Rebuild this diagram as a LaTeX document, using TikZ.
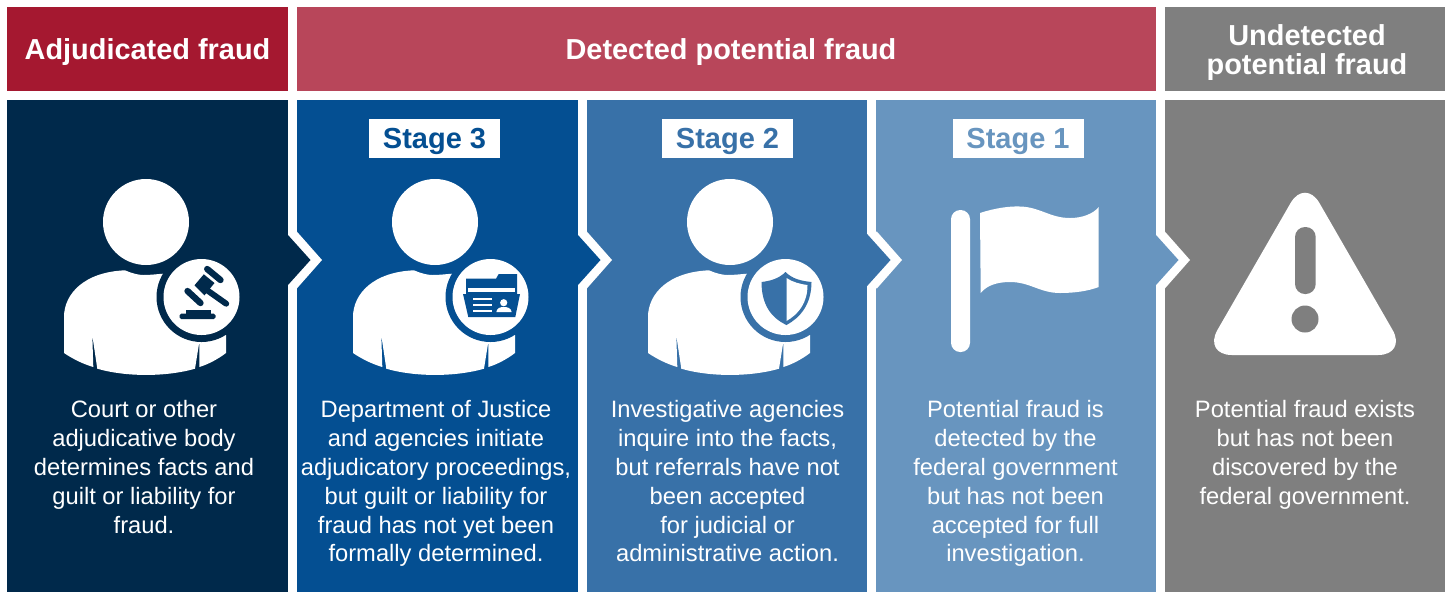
\documentclass[tikz,border=0pt]{standalone}
\usepackage{fontspec}
\setmainfont{Liberation Sans}
\definecolor{fnavy}  {RGB}{0,41,75}
\definecolor{fblue}  {RGB}{4,79,146}
\definecolor{fmid}   {RGB}{56,113,168}
\definecolor{flight} {RGB}{104,149,191}
\definecolor{fgray}  {RGB}{127,127,127}
\definecolor{fred}   {RGB}{165,24,48}
\definecolor{fpink}  {RGB}{184,70,90}
\tikzset{
    hdrbox/.style={minimum height=1.68cm, inner sep=0pt, align=center, text=white,
             text height=0.55cm, text depth=0.13cm,
             font=\fontsize{16.45}{16.4}\selectfont\bfseries},
    panel/.style={minimum height=9.84cm, minimum width=5.62cm, inner sep=0pt},
    stagebox/.style={fill=white, minimum width=2.62cm, minimum height=0.78cm, inner sep=0pt,
             text height=0.5cm, text depth=0.1cm,
             font=\fontsize{16.5}{19}\selectfont\bfseries},
    bodytext/.style={anchor=north, align=center, text=white, inner sep=0pt,
             font=\fontsize{13.5}{16.44}\selectfont},
    pics/person/.style={code={
      \fill[white] (0,0) circle (43);
      \fill[white] (-82,131) -- (-82,95) .. controls (-82,72) and (-62,50) .. (-21,48.3)
        .. controls (-15,51) and (-8,53) .. (-2.7,53) .. controls (5,53) and (12,52) .. (17,51.7)
        -- (80,113) -- (80,131) .. controls (72,137) and (63,142) .. (53.3,145) -- (53.3,120)
        -- (49,146.7) .. controls (20,155) and (-20,155) .. (-48.7,146.7) -- (-53.7,113.3)
        -- (-52.7,145) .. controls (-63,142) and (-73,137) .. (-82,131) -- cycle;
      \fill[#1] (55.5,75) circle (45);
      \fill[white] (55.5,75) circle (38);
    }},
    pics/gavel/.style={code={
      \draw[#1, line width=3.6pt, line cap=round] (5.7,-28) -- (19,-17);
      \draw[#1, line width=3.6pt, line cap=round] (-14,-6) -- (-1,6);
      \fill[#1] (2.3,-22.7) -- (13,-14) -- (3,-1.7) -- (-7,-11.7) -- cycle;
      \draw[#1, line width=3.4pt, line cap=round] (5.7,-6.7) -- (24.7,6.7);
      \fill[#1, rounded corners=1pt] (-22,16.7) rectangle (14,22);
      \fill[#1] (-16,12.7) rectangle (9,17);
    }},
    pics/folder/.style={code={
      \fill[#1] (-25,-18.3) -- (5,-18.3) -- (7.7,-23) -- (26,-23) -- (26,-3) -- (-25,-3) -- cycle;
      \fill[white] (-23.3,-9) rectangle (24.3,-5);
      \fill[#1] (-28,-3) -- (29,-3) -- (24.3,20) -- (-22.7,20) -- cycle;
      \foreach \ly in {1,6.7,12.7}
        \fill[white] (-18.3,\ly) rectangle (0.7,\ly+2.3);
      \fill[white] (12.7,5.7) circle (3.6);
      \fill[white] (5.3,15) .. controls (6,11) and (9,10) .. (12.7,10)
        .. controls (16.5,10) and (20,11) .. (20.7,15) -- cycle;
    }},
    pics/shield/.style={code={
      \fill[#1] (0,-25) .. controls (-7,-18) and (-16,-16) .. (-24,-15)
        .. controls (-24,8) and (-14,21) .. (1,28)
        .. controls (14,21) and (26,8) .. (26,-15)
        .. controls (16,-16) and (7,-18) .. (0,-25) -- cycle;
      \fill[white] (1,-19) .. controls (7,-15) and (14,-13) .. (22,-12)
        .. controls (22,6) and (13,17) .. (1,24) -- cycle;
    }}
  }
\begin{document}
\begin{tikzpicture}[x=0.02cm, y=-0.02cm]
  \useasboundingbox (0,0) rectangle (1449,593);
  %Header row
      \node[hdrbox, fill=fred, minimum width=5.62cm] (hdradj) at (147.5,49) {Adjudicated fraud};
      \node[hdrbox, fill=fpink, minimum width=17.18cm] (hdrdet) at (726.5,49) {\hspace*{0.18cm}Detected potential fraud};
      \node[hdrbox, fill=fgray, minimum width=5.6cm, text height=1.12cm, text depth=0.12cm] (hdrund) at (1305,49) {\hspace*{0.08cm}Undetected\\\hspace*{0.08cm}potential fraud};
  %Panels
      \node[panel, fill=fnavy] (panadj) at (147.5,346) {};
      \node[panel, fill=fblue] (panthree) at (437.5,346) {};
      \node[panel, fill=fmid] (pantwo) at (727,346) {};
      \node[panel, fill=flight, minimum width=5.6cm] (panone) at (1016,346) {};
      \node[panel, fill=fgray, minimum width=5.6cm] (panund) at (1305,346) {};
  %Chevrons between the panels
      \foreach \ex/\col in {288/fnavy,578/fblue,868/fmid,1156/flight}{
        \fill[white] (\ex,231.7) -- (\ex+9,231.7) -- (\ex+34,260) -- (\ex+9,288.3) -- (\ex,288.3) -- cycle;
        \fill[\col] (\ex-1,234) -- (\ex,235) -- (\ex+22.5,260) -- (\ex,285) -- (\ex-1,286) -- cycle;
      }
  %Stage labels
      \node[stagebox, text=fblue] (stagethree) at (434.5,138.5) {Stage 3};
      \node[stagebox, text=fmid] (stagetwo) at (727.5,138.5) {Stage 2};
      \node[stagebox, text=flight] (stageone) at (1018,138.5) {Stage 1};
  %People with their badges
      \pic at (146,222) {person=fnavy};
      \pic at (201.5,297) {gavel=fnavy};
      \pic at (435,222) {person=fblue};
      \pic at (491,297) {folder=fblue};
      \pic at (730,222) {person=fmid};
      \pic at (785.5,297) {shield=fmid};
  %Flag
      \fill[white, rounded corners=0.185cm] (951,210) rectangle (970,352);
      \fill[white] (980,213) .. controls (995,208) and (1010,206) .. (1020,206.5)
        .. controls (1040,207) and (1050,218) .. (1070,218)
        .. controls (1082,218) and (1093,214) .. (1098.7,207) -- (1098.7,287)
        .. controls (1088,291) and (1075,293) .. (1060,293)
        .. controls (1040,293) and (1030,282) .. (1010,282)
        .. controls (998,282) and (987,285) .. (980.7,293) -- cycle;
  %Warning sign
      \fill[white, rounded corners=0.58cm] (1305,178) -- (1407,355) -- (1203,355) -- cycle;
      \fill[fgray, rounded corners=0.2cm] (1295,227) rectangle (1315.7,294);
      \fill[fgray] (1305,319) circle (13.5);
  %Texts
      \node[bodytext] (txtadj) at (144,400) {Court or other\\adjudicative body\\determines facts and\\guilt or liability for\\fraud.};
      \node[bodytext] (txtthree) at (436,400) {Department of Justice\\and agencies initiate\\adjudicatory proceedings,\\but guilt or liability for\\fraud has not yet been\\formally determined.};
      \node[bodytext] (txttwo) at (727.5,400) {Investigative agencies\\inquire into the facts,\\but referrals have not\\been accepted\\for judicial or\\administrative action.};
      \node[bodytext] (txtone) at (1015.5,400) {Potential fraud is\\detected by the\\federal government\\but has not been\\accepted for full\\investigation.};
      \node[bodytext] (txtund) at (1305,400) {Potential fraud exists\\but has not been\\discovered by the\\federal government.};
  \end{tikzpicture}
\end{document}
